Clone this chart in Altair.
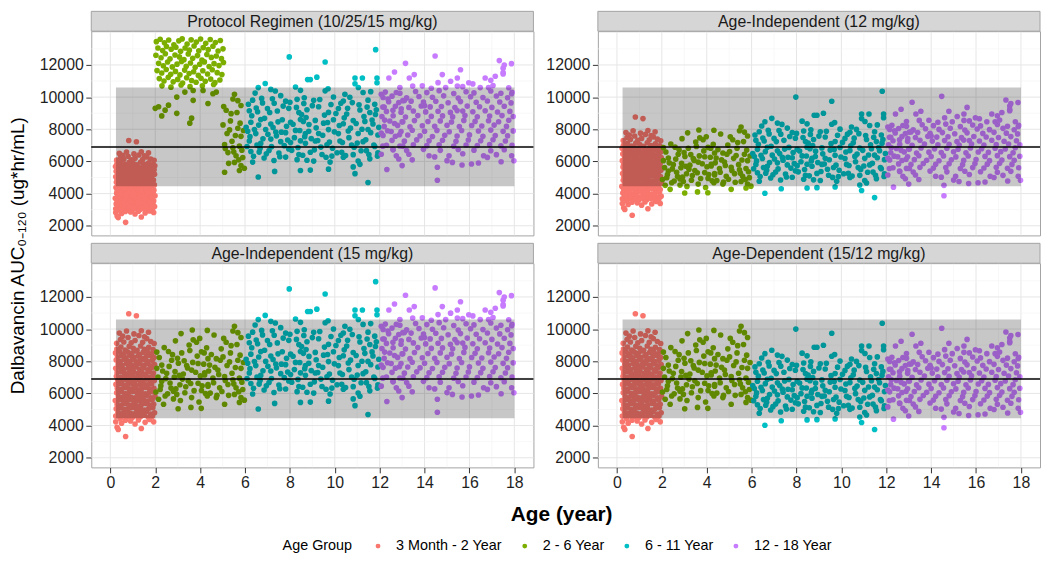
import altair as alt
import pandas as pd

FONT = "Liberation Sans"
GROUPS = ["3 Month - 2 Year", "2 - 6 Year", "6 - 11 Year", "12 - 18 Year"]
COLORS = ["#F8766D", "#7CAE00", "#00BFC4", "#C77CFF"]
PANELS = ["Protocol Regimen (10/25/15 mg/kg)", "Age-Independent (12 mg/kg)",
          "Age-Independent (15 mg/kg)", "Age-Dependent (15/12 mg/kg)"]
# dose (mg/kg) given to each age group in each panel; None = values listed explicitly
DOSE = {
    PANELS[0]: [10, None, 15, 15],
    PANELS[1]: [12, 12, 12, 12],
    PANELS[2]: [15, 15, 15, 15],
    PANELS[3]: [15, 15, 12, 12],
}
REF_DOSE = 15
PROTO_SWITCH_AGE = 5.0   # 2-6 yr subjects older than this stay on 15 mg/kg in the protocol panel

TARGET_LOW, TARGET_HIGH, TARGET_LINE = 4450, 10600, 6900
TARGET_AGE = [0.25, 18.0]

X_MAJOR = list(range(0, 19, 2))
X_MINOR = list(range(1, 18, 2))
Y_MAJOR = list(range(2000, 12001, 2000))
Y_MINOR = list(range(3000, 13001, 2000))

# (age in years, AUC at 15 mg/kg) read from the Age-Independent (15 mg/kg) panel
G1 = [
(0.29,8760),(0.47,8890),(0.66,8700),(0.84,8930),(1.02,8810),(1.19,8680),(1.35,8950),(1.52,8740),(1.71,8870),(1.9,8720),
(0.23,8520),(0.41,8610),(0.58,8450),(0.77,8580),(0.95,8490),(1.13,8640),(1.29,8410),(1.46,8560),(1.64,8620),(1.83,8470),(1.98,8590),
(0.32,8280),(0.5,8350),(0.69,8210),(0.87,8380),(1.06,8250),(1.24,8330),(1.41,8190),(1.6,8300),(1.78,8360),(1.95,8230),
(0.26,8080),(0.44,7990),(0.62,8120),(0.8,8020),(0.99,8100),(1.16,7960),(1.33,8060),(1.5,8130),(1.68,7980),(1.87,8070),
(0.35,7820),(0.53,7750),(0.72,7880),(0.9,7790),(1.09,7730),(1.27,7860),(1.44,7770),(1.62,7840),(1.8,7710),(1.97,7800),
(0.24,7560),(0.42,7620),(0.6,7490),(0.79,7580),(0.97,7530),(1.15,7640),(1.31,7500),(1.49,7590),(1.67,7470),(1.85,7610),
(0.3,7290),(0.48,7350),(0.67,7220),(0.85,7310),(1.03,7380),(1.22,7250),(1.39,7330),(1.56,7200),(1.74,7360),(1.92,7270),
(0.27,7060),(0.45,7000),(0.63,7110),(0.82,7030),(1.0,7090),(1.18,6980),(1.36,7070),(1.54,7130),(1.72,7010),(1.89,7080),
(0.33,6820),(0.51,6760),(0.7,6870),(0.88,6790),(1.07,6740),(1.25,6850),(1.42,6780),(1.61,6890),(1.79,6730),(1.96,6810),
(0.25,6560),(0.43,6600),(0.61,6510),(0.78,6580),(0.96,6630),(1.14,6490),(1.32,6570),(1.48,6620),(1.66,6530),(1.84,6590),
(0.31,6310),(0.49,6250),(0.68,6360),(0.86,6280),(1.04,6330),(1.23,6220),(1.4,6300),(1.58,6370),(1.76,6260),(1.94,6320),
(0.28,6040),(0.46,6100),(0.64,5990),(0.83,6070),(1.01,6120),(1.2,6010),(1.37,6080),(1.55,5970),(1.73,6060),(1.91,6110),
(0.36,5810),(0.54,5750),(0.73,5860),(0.91,5780),(1.1,5730),(1.28,5840),(1.45,5770),(1.63,5880),(1.81,5720),(1.99,5800),
(0.22,5560),(0.4,5600),(0.59,5510),(0.76,5580),(0.94,5630),(1.12,5490),(1.3,5570),(1.47,5620),(1.65,5530),(1.86,5590),
(0.3,5310),(0.48,5250),(0.66,5360),(0.85,5280),(1.03,5330),(1.21,5220),(1.38,5300),(1.57,5370),(1.75,5260),(1.93,5320),
(0.26,5040),(0.44,5100),(0.63,4990),(0.81,5070),(0.99,5120),(1.17,5010),(1.35,5080),(1.53,4970),(1.71,5060),(1.89,5110),
(0.34,4810),(0.52,4750),(0.7,4860),(0.89,4780),(1.07,4730),(1.26,4840),(1.43,4770),(1.61,4880),(1.8,4720),(1.97,4800),
(0.24,4590),(0.42,4540),(0.61,4620),(0.79,4560),(0.98,4500),(1.16,4610),(1.34,4550),(1.51,4640),(1.69,4520),(1.87,4580),
(0.28,9120),(0.45,9350),(0.6,9200),(0.79,9480),(0.93,9150),(1.1,9290),(1.27,9600),(1.44,9180),(1.62,9410),(1.8,9230),
(1.95,9100),(0.4,9750),(0.72,9880),(1.05,9700),(1.38,9900),(1.7,9800),(0.55,9560),(1.52,9520),(0.82,10950),(1.16,10830),
(0.24,4230),(0.35,3760),(0.68,3320),(1.38,3820),(0.5,4150),(0.67,4330),(0.9,4280),(1.25,4350),(1.55,4200),(1.93,4230),
(0.3,3900),(1.1,4100),(1.75,4380),(0.44,4420),
]
G2 = [
(3.15,9720),(3.65,9940),(3.69,9330),(3.84,9180),(2.07,8570),(2.59,8610),(3.18,8520),(3.54,8670),(4.06,8590),(4.35,8160),
(2.73,8060),(2.29,7760),(3.03,7880),(3.4,7730),(3.91,7860),(2.07,7560),(2.51,7250),(2.88,7360),(3.25,7210),(3.62,7450),
(4.2,7280),(2.29,6750),(2.66,6650),(3.1,6540),(3.47,6790),(3.91,6630),(4.35,6550),(2.22,6240),(2.81,6140),(3.32,6040),
(4.06,6180),(2.15,5640),(2.44,5840),(2.96,5940),(2.37,5330),(2.81,5660),(3.62,5740),(3.59,5130),(4.32,5840),
(4.32,9920),(5.53,10180),(5.46,9880),(5.68,9780),(5.82,9480),(5.16,9180),(5.38,8970),(4.94,8770),(4.72,8160),(4.18,8520),
(4.42,7760),(5.02,8270),(5.31,7960),(5.68,8060),(5.82,7560),(4.79,7450),(4.2,7150),(4.57,6950),(5.09,7050),(5.46,6850),
(5.75,6950),(4.35,6450),(4.87,6350),(5.24,6550),(5.6,6350),(5.9,6240),(5.53,5940),(5.82,5740),(5.09,5330),(5.75,5440),(4.72,5740),
(2.12,7020),(2.18,8230),(2.25,6480),(2.33,7390),(2.4,8850),(2.47,6920),(2.55,5980),(2.62,7680),(2.7,6330),(2.77,8410),
(2.85,7010),(2.92,6280),(2.99,8190),(3.07,7120),(3.12,5560),(3.21,6890),(3.29,8030),(3.36,6410),(3.44,7580),(3.51,9010),
(3.58,6620),(3.67,7930),(3.73,6170),(3.8,7320),(3.87,8320),(3.95,5470),(4.01,7090),(4.09,6480),(4.16,7820),(4.24,5990),
(4.29,8840),(4.38,7390),(4.45,6020),(4.5,8420),(4.6,6660),(4.66,7620),(4.75,5890),(4.83,7180),(4.9,8060),(4.97,6120),
(5.05,9420),(5.12,6800),(5.2,7740),(5.27,5880),(5.35,8520),(5.42,7250),(5.5,6590),(5.57,7610),(5.64,9040),(5.72,6100),
(5.78,8380),(5.86,6700),(5.93,7920),(5.97,5580),(2.03,6090),(3.98,9420),(4.62,9630),(2.9,9270),(3.02,5050),(4.05,5070),
]
G3 = [
(6.9,10850),(6.59,10590),(7.15,10480),(8.25,10630),(8.79,11090),(8.47,10420),(6.34,9810),(6.78,9640),(7.22,9900),(7.59,10090),
(7.81,9750),(8.32,9860),(8.62,9600),(6.19,9150),(6.56,9090),(7.0,9290),(7.44,9140),(7.95,9300),(8.4,9040),(8.76,9210),
(6.26,8440),(6.7,8600),(7.15,8330),(7.66,8590),(8.03,8440),(8.47,8610),(6.12,7880),(6.48,7730),(6.92,7990),(7.37,7830),
(7.81,7790),(8.25,7930),(8.69,7740),(6.19,7270),(6.7,7120),(7.15,7390),(7.59,7230),(8.03,7170),(8.47,7280),(6.26,6620),
(6.63,6580),(7.07,6680),(7.51,6520),(7.95,6770),(8.4,6430),(6.34,5960),(6.85,6210),(7.29,6060),(7.81,6270),(8.32,6110),
(8.76,6070),(6.59,5030),(7.32,5380),(8.47,5440),
(8.91,11090),(9.2,11240),(10.9,11190),(10.9,10830),(11.23,11190),(11.88,11190),(11.88,10890),(8.64,9960),(9.06,9800),(9.57,10390),
(9.94,10010),(10.38,9760),(10.67,9990),(11.26,10290),(11.48,9810),(11.78,9560),(9.28,9400),(9.72,9050),(10.16,9290),(10.53,8950),
(11.12,9200),(11.56,9040),(11.85,9210),(8.6,8490),(9.13,8550),(9.5,8380),(9.94,8590),(10.38,8340),(10.82,8540),(11.34,8490),
(11.7,8330),(8.84,7880),(9.28,7740),(9.72,7980),(10.16,7730),(10.6,7890),(11.04,7740),(11.48,7990),(11.92,7640),(8.69,7130),
(9.13,7270),(9.65,7030),(10.23,7270),(10.75,7020),(11.26,7230),(11.78,6930),(8.91,6570),(9.43,6430),(9.87,6330),(10.31,6570),
(10.82,6420),(11.41,6670),(11.92,6530),(9.06,6020),(9.79,5960),(10.38,6260),(11.04,6020),(11.56,6160),(8.91,5460),(9.72,5520),
(10.82,5660),(10.9,5240),(11.12,5820),(11.48,4690),(7.97,12500),(9.57,12180),(11.82,12950),
(6.05,8120),(6.09,6930),(6.15,9560),(6.22,7540),(6.3,8840),(6.38,6320),(6.42,7980),(6.5,9320),(6.53,7020),(6.61,8260),
(6.67,6810),(6.74,9920),(6.8,7410),(6.87,8680),(6.95,6470),(7.02,7690),(7.1,9040),(7.18,6920),(7.25,8110),(7.3,9620),
(7.4,7590),(7.47,8460),(7.55,6290),(7.62,7820),(7.7,9440),(7.75,6980),(7.85,8190),(7.9,7330),(8.0,9680),(8.08,6690),
(8.14,8310),(8.2,7480),(8.29,9360),(8.36,6870),(8.44,7920),(8.52,8920),(8.57,6380),(8.66,7540),(8.72,8730),(8.85,8300),
(8.95,7420),(9.0,9470),(9.09,6720),(9.17,8090),(9.24,7300),(9.33,9850),(9.38,6890),(9.46,7630),(9.54,8880),(9.61,6260),
(9.68,8420),(9.76,7210),(9.83,9540),(9.9,6820),(9.98,7840),(10.05,8980),(10.1,6540),(10.2,8230),(10.27,9620),(10.34,7180),
(10.42,8710),(10.48,6370),(10.57,9310),(10.63,7480),(10.7,8070),(10.78,9660),(10.86,6880),(10.95,8360),(11.0,7140),(11.08,9520),
(11.17,6660),(11.21,8000),(11.3,8790),(11.38,7350),(11.44,9380),(11.52,6430),(11.6,7790),(11.66,8580),(11.74,7020),(11.81,8920),
(11.9,6330),(11.96,8120),(6.45,10250),(7.35,10380),(9.7,10520),(10.45,10180),(11.05,10600),(11.6,10340),
]
G4 = [
(12.41,11190),(12.66,11560),(12.07,10180),(12.37,9880),(12.74,10290),(13.03,9780),(12.14,9380),(12.59,9180),(12.96,9270),(12.22,8570),
(12.66,8360),(13.03,8470),(12.07,7760),(12.51,7860),(12.88,7660),(12.14,6950),(12.59,6750),(13.03,6950),(12.07,6450),(12.74,6350),
(12.32,5500),(13.0,5740),
(13.54,11400),(13.32,11190),(14.79,11400),(15.6,11700),(15.46,11190),(15.16,10990),(15.97,10890),(15.46,10690),(16.7,11190),(17.15,11300),
(17.5,11800),(17.5,11440),(16.48,10590),(16.85,10590),(13.47,10690),(14.94,10590),(13.15,12100),(14.47,12560),(17.33,12270),(17.55,12000),
(17.87,12080),(17.5,11530),(17.88,10210),
(14.57,4830),(14.57,5640),(15.24,5940),(15.67,5780),(16.09,5840),(17.41,5980),(17.88,6350),(17.98,6040),(15.09,6350),(16.63,6350),
(14.2,6350),(13.45,6100),
(12.25,10310),(12.9,10240),(13.6,10350),(14.1,10280),(14.65,10400),(15.3,10220),(15.85,10330),(16.2,10260),(16.95,10380),(17.4,10240),(17.9,10300),
(12.15,9980),(12.55,10060),(13.2,9950),(13.75,10040),(14.35,9990),(14.85,10080),(15.5,9940),(16.05,10020),(16.6,9970),(17.2,10070),(17.7,9960),
(12.4,9710),(12.85,9660),(13.4,9750),(13.95,9690),(14.5,9740),(15.05,9650),(15.6,9720),(16.3,9680),(16.8,9760),(17.35,9700),(17.85,9640),(13.1,9790),
(12.2,9380),(12.7,9430),(13.3,9360),(13.85,9450),(14.25,9390),(14.75,9420),(15.35,9350),(15.9,9440),(16.45,9400),(17.0,9360),(17.55,9430),(14.0,9470),
(12.3,9110),(12.95,9060),(13.5,9140),(14.05,9080),(14.6,9120),(15.15,9050),(15.7,9130),(16.15,9090),(16.7,9150),(17.25,9070),(17.8,9110),(15.45,9160),
(12.1,8790),(12.6,8840),(13.15,8760),(13.7,8850),(14.3,8800),(14.8,8830),(15.25,8770),(15.8,8860),(16.35,8780),(16.9,8820),(17.45,8850),(17.95,8790),
(12.45,8510),(13.0,8460),(13.55,8540),(14.15,8480),(14.7,8520),(15.2,8450),(15.75,8550),(16.25,8490),(16.85,8530),(17.3,8470),(17.75,8560),
(12.2,8180),(12.8,8240),(13.35,8160),(13.9,8220),(14.45,8190),(15.0,8250),(15.55,8170),(16.1,8230),(16.55,8200),(17.1,8260),(17.65,8180),
(12.35,7910),(12.95,7860),(13.45,7940),(14.0,7880),(14.55,7930),(15.1,7850),(15.65,7920),(16.4,7890),(16.95,7950),(17.5,7870),(17.95,7900),
(12.15,7620),(12.7,7570),(13.25,7640),(13.8,7590),(14.35,7550),(14.9,7630),(15.45,7580),(16.0,7650),(16.6,7560),(17.15,7610),(17.7,7590),
(12.55,7310),(13.1,7260),(13.65,7340),(14.2,7280),(14.8,7320),(15.4,7250),(15.95,7330),(16.5,7290),(17.05,7350),(17.6,7270),
(12.3,7010),(12.9,6960),(13.5,7040),(14.1,6980),(14.65,7030),(15.3,6950),(15.85,7020),(16.35,6990),(16.9,7050),(17.4,6970),(17.9,7010),
(12.6,6720),(13.2,6680),(13.95,6750),(14.7,6690),(15.5,6740),(16.2,6700),(16.95,6660),(17.55,6730),
(13.3,6450),(14.45,6280),(15.7,6480),(16.8,6250),(17.2,6420),(12.85,6150),(15.0,6050),(16.4,5900),
(12.9,10600),(13.9,10700),(14.3,10550),(15.7,10650),(16.15,10820),(17.05,10720),(17.75,10580),(14.6,10900),(16.95,11050),
]
BASE = [G1, G2, G3, G4]

# 2 - 6 Year subjects in the protocol regimen (25 mg/kg)
PROTO_G2 = [
(2.05,13450),(2.22,13600),(2.41,13380),(2.6,13550),(2.83,13250),(3.05,13500),(3.2,13620),(3.42,13300),(3.6,13560),(3.83,13420),
(4.02,13610),(4.25,13350),(4.45,13580),(4.68,13400),(4.9,13520),
(2.12,13050),(2.33,12900),(2.5,13150),(2.71,12980),(2.92,13100),(3.13,12850),(3.33,13050),(3.52,12920),(3.73,13180),(3.94,12880),
(4.14,13080),(4.36,12950),(4.57,13160),(4.8,12870),(5.02,13000),
(2.03,12600),(2.26,12450),(2.45,12700),(2.66,12380),(2.88,12620),(3.08,12500),(3.28,12330),(3.47,12680),(3.67,12420),(3.88,12580),
(4.08,12300),(4.3,12650),(4.5,12470),(4.72,12560),(4.95,12390),
(2.15,12100),(2.36,11950),(2.55,12180),(2.76,11880),(2.97,12050),(3.17,12210),(3.38,11920),(3.57,12120),(3.78,11850),(3.98,12040),
(4.19,12190),(4.4,11900),(4.62,12080),(4.84,11960),(5.04,12150),
(2.08,11650),(2.29,11500),(2.49,11720),(2.69,11420),(2.9,11600),(3.1,11380),(3.31,11680),(3.51,11470),(3.71,11580),(3.92,11350),
(4.12,11640),(4.33,11440),(4.54,11700),(4.76,11520),(4.97,11400),
(2.18,11150),(2.39,11000),(2.58,11230),(2.8,10950),(3.0,11100),(3.22,10880),(3.4,11200),(3.62,11030),(3.82,10920),(4.04,11170),
(4.23,10980),(4.47,11120),(4.66,10900),(4.88,11060),
(2.3,10700),(2.7,10620),(3.15,10750),(3.55,10650),(4.1,10700),(4.6,10780),
(2.0,9300),(2.15,9400),(2.29,8830),(2.44,9190),(2.59,9500),(2.96,10000),(2.96,8990),(3.32,10310),(3.69,10410),(3.69,9800),
(3.62,8690),(3.54,8380),(4.13,10410),(4.57,10210),(4.72,10310),(4.35,9600),
]

rows = []
for pname in PANELS:
    for gi, gname in enumerate(GROUPS):
        dose = DOSE[pname][gi]
        if dose is None:
            for a, v in PROTO_G2:
                rows.append({"panel": pname, "group": gname, "age": a, "auc": v})
            for a, v in BASE[gi]:
                if a >= PROTO_SWITCH_AGE:
                    rows.append({"panel": pname, "group": gname, "age": a, "auc": v})
        else:
            for a, v in BASE[gi]:
                rows.append({"panel": pname, "group": gname, "age": a, "auc": v * dose / REF_DOSE})
data = pd.DataFrame(rows)

W, H = 446, 206
XS = alt.Scale(domain=[-0.85, 18.85], nice=False, zero=False)
YS = alt.Scale(domain=[1400, 14100], nice=False, zero=False)
AXC = "#333333"
LABC = "#1f1f1f"

vmaj = pd.DataFrame({"gx": X_MAJOR})
vmin = pd.DataFrame({"gx": X_MINOR})
hmaj = pd.DataFrame({"gy": Y_MAJOR})
hmin = pd.DataFrame({"gy": Y_MINOR})
band = pd.DataFrame({"x1": [TARGET_AGE[0]], "x2": [TARGET_AGE[1]],
                     "y1": [TARGET_LOW], "y2": [TARGET_HIGH]})
hline = pd.DataFrame({"t": [TARGET_LINE]})


def make_panel(idx):
    name = PANELS[idx]
    row, col = divmod(idx, 2)
    if row == 1:
        xkw = dict(values=X_MAJOR, grid=False, domain=False, tickSize=5.5, tickColor=AXC,
                   labelFontSize=16, labelColor=LABC, labelFont=FONT, labelPadding=2)
        if col == 0:
            xkw.update(title="Age (year)", titleFontSize=21, titleFont=FONT, titleFontWeight="bold",
                       titleColor="#000000", titleX=474, titleY=48, titleAlign="center",
                       titleBaseline="middle")
        else:
            xkw.update(title=None)
        xax = alt.Axis(**xkw)
    else:
        xax = None
    ykw = dict(values=Y_MAJOR, grid=False, domain=False, tickSize=5.5, tickColor=AXC,
               labelFontSize=16, labelColor=LABC, labelFont=FONT, labelPadding=2.5, format="d")
    if idx == 0:
        ykw.update(title="Dalbavancin AUC\u2080\u208b\u2081\u2082\u2080 (ug*hr/mL)", titleFontSize=19,
                   titleFont=FONT, titleFontWeight="normal", titleColor="#000000",
                   titleX=-74, titleY=226, titleAlign="center", titleBaseline="middle", titleAngle=270)
    else:
        ykw.update(title=None)
    yax = alt.Axis(**ykw)

    gv_min = alt.Chart(vmin).mark_rule(color="#f3f3f3", strokeWidth=0.6).encode(
        x=alt.X("gx:Q", scale=XS, axis=xax))
    gv_maj = alt.Chart(vmaj).mark_rule(color="#e6e6e6", strokeWidth=1).encode(
        x=alt.X("gx:Q", scale=XS, axis=xax))
    gh_min = alt.Chart(hmin).mark_rule(color="#f3f3f3", strokeWidth=0.6).encode(
        y=alt.Y("gy:Q", scale=YS, axis=yax))
    gh_maj = alt.Chart(hmaj).mark_rule(color="#e6e6e6", strokeWidth=1).encode(
        y=alt.Y("gy:Q", scale=YS, axis=yax))

    pts = alt.Chart(data[data.panel == name]).mark_circle(size=32, opacity=1).encode(
        x=alt.X("age:Q", scale=XS, axis=xax),
        y=alt.Y("auc:Q", scale=YS, axis=yax),
        color=alt.Color("group:N",
                        scale=alt.Scale(domain=GROUPS, range=COLORS),
                        legend=alt.Legend(title="Age Group", orient="none", legendX=193, legendY=512,
                                          direction="horizontal", titleOrient="left",
                                          titleFontSize=14.5, titleFont=FONT, titleFontWeight="normal",
                                          titleColor="#000000", titlePadding=18,
                                          labelFontSize=14.5, labelFont=FONT, labelColor="#000000",
                                          symbolType="circle", symbolSize=24, symbolStrokeWidth=0,
                                          symbolOpacity=1, labelOffset=11, columnPadding=15)),
    )
    rect = alt.Chart(band).mark_rect(color="#000000", opacity=0.22).encode(
        x=alt.X("x1:Q", scale=XS, axis=xax), x2="x2:Q",
        y=alt.Y("y1:Q", scale=YS, axis=yax), y2="y2:Q")
    line = alt.Chart(hline).mark_rule(color="#000000", strokeWidth=1.4).encode(
        y=alt.Y("t:Q", scale=YS, axis=yax))
    lab = pd.DataFrame({"label": [name]})
    strip = alt.Chart(lab).mark_rect(fill="#d6d6d6", stroke="#a3a3a3", strokeWidth=1).encode(
        x=alt.value(0), x2=alt.value(W), y=alt.value(-20), y2=alt.value(0))
    stext = alt.Chart(lab).mark_text(fontSize=16, font=FONT, color="#1a1a1a",
                                     align="center", baseline="middle").encode(
        x=alt.value(W / 2), y=alt.value(-9.5), text="label:N")
    return alt.layer(gv_min, gv_maj, gh_min, gh_maj, pts, rect, line, strip, stext).properties(
        width=W, height=H)


chart = alt.concat(*[make_panel(i) for i in range(4)], columns=2,
                   spacing={"row": 28, "column": 65}, bounds="flush").properties(
    padding=0
).configure(font=FONT).configure_view(stroke="#a3a3a3", strokeWidth=1)

chart.save("out.html", embed_options={"renderer": "svg", "actions": False})
